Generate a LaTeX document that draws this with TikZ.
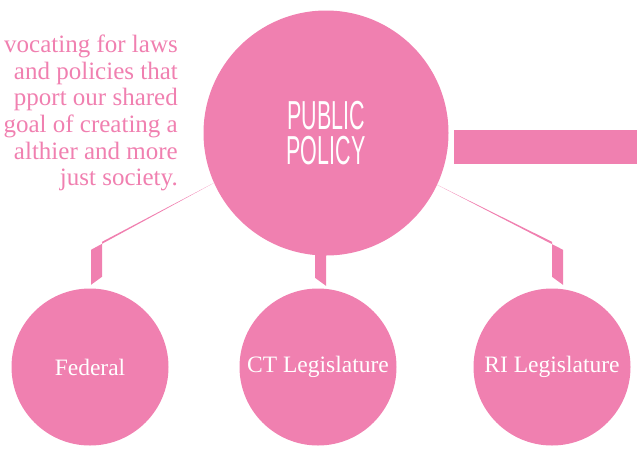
\documentclass[tikz,border=0pt]{standalone}
\usepackage{fontspec}
\setmainfont{Liberation Serif}
\newfontfamily\condfont[FakeStretch=0.53]{Liberation Sans}
\usepackage{xcolor}
\usetikzlibrary{calc}
\definecolor{policypink}{RGB}{240,128,176}
\tikzset{
    bigcircle/.style={circle, fill=policypink, minimum size=245pt, inner sep=0pt,
        text=white, align=center, font=\condfont\fontsize{40.5pt}{35pt}\selectfont},
    branch/.style={circle, fill=policypink, minimum size=157pt, inner sep=0pt,
        text=white, font=\fontsize{23.5pt}{28pt}\selectfont},
    leg/.style={fill=policypink}
}

\begin{document}
\begin{tikzpicture}[x=1pt, y=-1pt]
        \useasboundingbox (0, 0) rectangle (637, 448);

        \node[bigcircle] (pp) at (326, 133) {PUBLIC\\POLICY};

        \node[branch] (fed) at (90, 367) {Federal};
        \node[branch] (ct) at (318, 367) {CT Legislature};
        \node[branch] (ri) at (552, 367) {RI Legislature};

        \node[anchor=north east, align=right, inner sep=0pt, text=policypink,
            font=\fontsize{25pt}{26.7pt}\selectfont] (blurb) at (178, 34.6)
            {vocating for laws\\and policies that\\pport our shared\\goal of creating a\\althier and more\\just society.};

        \fill[policypink] (454, 130) rectangle (637, 164);

        % legs down to the three branches
        \fill[leg] (pp.204) -- ($(fed.north)+(12,-46.5)$) -- ($(fed.north)+(12,-11.5)$)
            -- ($(fed.north)+(1,-3.5)$) -- ($(fed.north)+(1,-38.5)$) -- cycle;
        \fill[leg] ($(ct.north)+(-3,-38.5)$) -- ($(ct.north)+(8,-38.5)$)
            -- ($(ct.north)+(8,-2.5)$) -- ($(ct.north)+(-3,-10.5)$) -- cycle;
        \fill[leg] (pp.335) -- ($(ri.north)+(11,-38.5)$) -- ($(ri.north)+(11,-3.5)$)
            -- ($(ri.north)+(0,-11.5)$) -- ($(ri.north)+(0,-46.5)$) -- cycle;
        %\draw (pp.south) -- (ct.north);
    \end{tikzpicture}
\end{document}
